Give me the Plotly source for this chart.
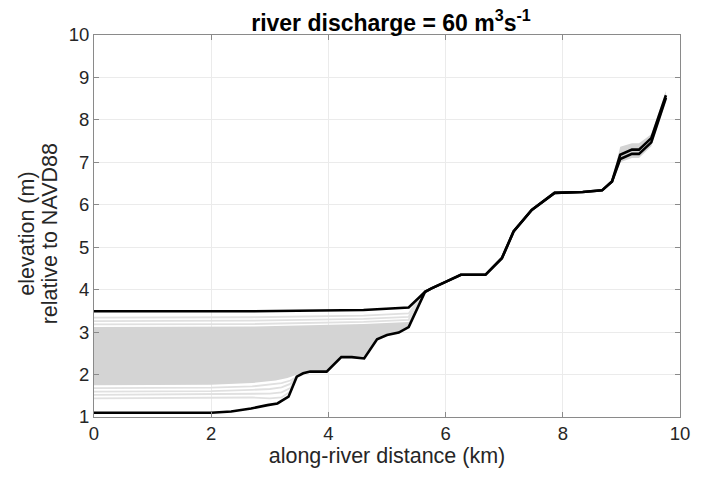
import plotly.graph_objects as go

# along-river distance (km) and elevations (m NAVD88)
high_x = [0, 2.7, 4.6, 5.37, 5.65, 5.76, 6.01, 6.26, 6.68, 6.96, 7.16, 7.47, 7.86, 8.34, 8.67, 8.84, 8.98, 9.18, 9.30, 9.51, 9.76]
high_y = [3.49, 3.49, 3.52, 3.58, 3.95, 4.03, 4.19, 4.35, 4.35, 4.74, 5.37, 5.88, 6.28, 6.30, 6.34, 6.55, 7.18, 7.30, 7.30, 7.57, 8.58]

low_x = [0, 2.0, 2.34, 2.68, 2.96, 3.13, 3.32, 3.46, 3.57, 3.69, 3.97, 4.22, 4.40, 4.61, 4.83, 5.0, 5.2, 5.37, 5.65, 5.76, 6.01, 6.26, 6.68, 6.96, 7.16, 7.47, 7.86, 8.34, 8.67, 8.84, 8.98, 9.18, 9.30, 9.51, 9.76]
low_y = [1.10, 1.10, 1.13, 1.20, 1.28, 1.32, 1.48, 1.95, 2.03, 2.07, 2.07, 2.41, 2.41, 2.38, 2.83, 2.93, 2.99, 3.12, 3.95, 4.03, 4.19, 4.35, 4.35, 4.74, 5.37, 5.88, 6.28, 6.30, 6.34, 6.55, 7.08, 7.20, 7.20, 7.47, 8.52]

# grey envelope of intermediate tidal stages (downstream reach)
band_bot_x = [0, 2.0, 2.7, 3.1, 3.3, 3.45, 3.57, 3.69, 3.97, 4.22, 4.40, 4.61, 4.83, 5.0, 5.2, 5.37, 5.62]
band_bot_y = [1.75, 1.76, 1.80, 1.86, 1.92, 2.0, 2.05, 2.09, 2.09, 2.42, 2.42, 2.40, 2.85, 2.95, 3.01, 3.14, 3.93]
band_top_x = [0, 2.7, 4.6, 5.37, 5.62]
band_top_y = [3.12, 3.13, 3.19, 3.24, 3.93]

# faint tidal-stage lines above and below the grey envelope
faint_top_x = [0, 2.7, 4.6, 5.37, 5.62]
faint_top_ys = [[3.18, 3.19, 3.24, 3.29, 3.93],
                [3.26, 3.27, 3.31, 3.36, 3.93],
                [3.34, 3.35, 3.39, 3.44, 3.93]]
faint_bot_x = [0, 2.0, 2.7, 3.0, 3.2, 3.35, 3.46]
faint_bot_ys = [[1.68, 1.69, 1.72, 1.76, 1.80, 1.86, 1.95],
                [1.60, 1.61, 1.64, 1.66, 1.70, 1.78, 1.95],
                [1.52, 1.53, 1.55, 1.55, 1.58, 1.68, 1.95],
                [1.44, 1.45, 1.46, 1.44, 1.46, 1.60, 1.95]]

# grey envelope near the upstream end
up_x = [8.84, 8.98, 9.18, 9.30, 9.51, 9.76]
up_top = [6.58, 7.37, 7.45, 7.45, 7.66, 8.68]
up_bot = [6.50, 7.00, 7.10, 7.10, 7.38, 8.45]

title_text = "<b>river discharge = 60 m<sup>3</sup>s<sup>-1</sup></b>"
xlabel = "along-river distance (km)"
ylabel_lines = ["elevation (m)", "relative to NAVD88"]

GREY = "#d4d4d4"
FAINT = "#e0e0e0"
FONT = "Liberation Sans, Arial"
TXT = "#262626"

fig = go.Figure()
fig.add_trace(go.Scatter(x=band_bot_x + band_top_x[::-1], y=band_bot_y + band_top_y[::-1],
                         fill="toself", fillcolor=GREY, line=dict(width=0), mode="lines",
                         hoverinfo="skip"))
fig.add_trace(go.Scatter(x=up_x + up_x[::-1], y=up_bot + up_top[::-1],
                         fill="toself", fillcolor=GREY, line=dict(width=0), mode="lines",
                         hoverinfo="skip"))
for ys in faint_top_ys:
    fig.add_trace(go.Scatter(x=faint_top_x, y=ys, mode="lines",
                             line=dict(color=FAINT, width=1.8)))
for ys in faint_bot_ys:
    fig.add_trace(go.Scatter(x=faint_bot_x, y=ys, mode="lines",
                             line=dict(color=FAINT, width=1.8)))
fig.add_trace(go.Scatter(x=high_x, y=high_y, mode="lines",
                         line=dict(color="black", width=2.6)))
fig.add_trace(go.Scatter(x=low_x, y=low_y, mode="lines",
                         line=dict(color="black", width=2.6)))

axis_common = dict(
    showgrid=True, gridcolor="#ebebeb", gridwidth=1,
    showline=True, linecolor="#8a8a8a", linewidth=1, mirror="ticks",
    ticks="inside", ticklen=5, tickcolor="#8a8a8a",
    zeroline=False,
    tickfont=dict(family=FONT, size=18.5, color=TXT),
)

fig.update_layout(
    width=702, height=480,
    margin=dict(l=94, r=13, t=35, b=63),
    paper_bgcolor="white", plot_bgcolor="white",
    showlegend=False,
    title=dict(text=title_text,
               x=0.557, xanchor="center", y=1 - 23 / 480, yanchor="middle",
               font=dict(family=FONT, size=23, color="black")),
    xaxis=dict(range=[0, 10], dtick=2, tick0=0,
               title=dict(text=xlabel, standoff=4,
                          font=dict(family=FONT, size=21.5, color=TXT)),
               **axis_common),
    yaxis=dict(range=[1, 10], dtick=1, tick0=1, **axis_common),
)

# two-line y-axis label, placed as rotated annotations
for txt, xpx in zip(ylabel_lines, [26, 49]):
    fig.add_annotation(text=txt, xref="paper", yref="paper",
                       x=(xpx - 94) / 595, y=0.48, xanchor="center", yanchor="middle",
                       textangle=-90, showarrow=False,
                       font=dict(family=FONT, size=21.5, color=TXT))

fig.write_html("out.html")
